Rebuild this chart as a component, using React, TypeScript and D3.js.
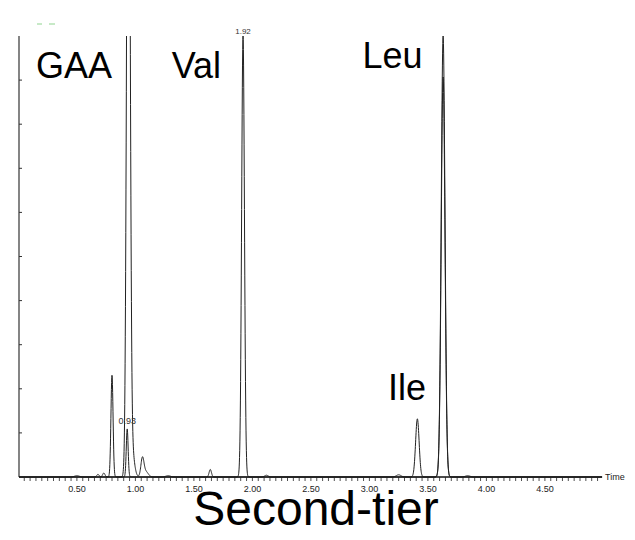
import React from "react";
import * as d3 from "d3";

// Chromatogram peaks, trace A: [retention time (min), height (% of full scale), width sigma (min)]
const peaksA: [number, number, number][] = [
  [0.5, 0.3, 0.02],
  [0.68, 0.6, 0.01],
  [0.73, 0.9, 0.01],
  [0.8, 23.1, 0.009],
  [0.94, 190, 0.014],
  [0.97, 6, 0.02],
  [1.06, 4.2, 0.013],
  [1.09, 1.2, 0.02],
  [1.28, 0.3, 0.02],
  [1.64, 1.7, 0.01],
  [1.92, 100, 0.012],
  [2.12, 0.4, 0.015],
  [3.25, 0.5, 0.02],
  [3.41, 13.2, 0.015],
  [3.63, 100, 0.016],
  [3.84, 0.3, 0.02],
];
// trace B (overlaid channel)
const peaksB: [number, number, number][] = [
  [0.93, 10.9, 0.008],
  [3.63, 90.7, 0.016],
];
const peakLabels: { t: number; v: number; text: string }[] = [
  { t: 0.93, v: 11.5, text: "0.93" },
  { t: 1.92, v: 100, text: "1.92" },
];
const compoundLabels: { text: string; t: number; v: number }[] = [
  { text: "GAA", t: 0.15, v: 90.5 },
  { text: "Val", t: 1.31, v: 90.5 },
  { text: "Leu", t: 2.94, v: 92.7 },
  { text: "Ile", t: 3.16, v: 17.5 },
];
const xTickLabels = [0.5, 1.0, 1.5, 2.0, 2.5, 3.0, 3.5, 4.0, 4.5];
const xMinorTicks = d3.range(1, 100).map((i) => i * 0.05);
const yTicks = [10, 20, 30, 40, 50, 60, 70, 80, 90];
const title = "Second-tier";
const xAxisTitle = "Time";

const W = 635;
const H = 540;
const x = d3.scaleLinear().domain([0, 5]).range([18.4, 603.4]);
const y = d3.scaleLinear().domain([0, 100]).range([477, 36]);

function trace(peaks: [number, number, number][]) {
  const ts = d3.range(0, 4.99, 0.0015);
  return ts.map((t) => {
    let v = 0;
    for (const [c, h, s] of peaks) v += h * Math.exp(-((t - c) ** 2) / (2 * s * s));
    return [t, v] as [number, number];
  });
}

export default function App() {
  const line = d3
    .line<[number, number]>()
    .x((d) => x(d[0]))
    .y((d) => y(d[1]));
  const font = "Liberation Sans, Arial, sans-serif";
  return (
    <svg width={W} height={H} style={{ position: "absolute", left: 0, top: 0 }}>
      <rect width={W} height={H} fill="#fff" />
      <defs>
        <clipPath id="plot">
          <rect x={19} y={36} width={585} height={442} />
        </clipPath>
      </defs>
      {/* green legend dashes */}
      <line x1={37} x2={42} y1={24} y2={24} stroke="#8fd48f" strokeWidth={1} />
      <line x1={49} x2={55} y1={24} y2={24} stroke="#8fd48f" strokeWidth={1} />
      {/* axes */}
      <line x1={19} x2={19} y1={36} y2={477} stroke="#333" strokeWidth={1.2} />
      {yTicks.map((v) => (
        <line key={v} x1={19} x2={22} y1={y(v)} y2={y(v)} stroke="#333" strokeWidth={1} />
      ))}
      <g clipPath="url(#plot)">
        <path d={line(trace(peaksB)) || ""} fill="none" stroke="#222" strokeWidth={1} />
        <path d={line(trace(peaksA)) || ""} fill="none" stroke="#222" strokeWidth={1} />
      </g>
      <line x1={19} x2={602} y1={477} y2={477} stroke="#111" strokeWidth={1.5} />
      {xMinorTicks.map((t, i) => (
        <line key={i} x1={x(t)} x2={x(t)} y1={477} y2={481} stroke="#222" strokeWidth={0.8} />
      ))}
      {xTickLabels.map((t) => (
        <text key={t} x={x(t)} y={492} fontSize={9} fontFamily={font} textAnchor="middle" fill="#222">
          {t.toFixed(2)}
        </text>
      ))}
      <text x={605} y={480} fontSize={9} fontFamily={font} fill="#222">
        {xAxisTitle}
      </text>
      {peakLabels.map((p) => (
        <text key={p.text} x={x(p.t)} y={y(p.v) - 2} fontSize={p.v > 50 ? 8 : 9} fontFamily={font} textAnchor="middle" fill="#333">
          {p.text}
        </text>
      ))}
      {compoundLabels.map((c) => (
        <text key={c.text} x={x(c.t)} y={y(c.v)} fontSize={36} fontFamily={font} fill="#000">
          {c.text}
        </text>
      ))}
      <text x={316} y={525} fontSize={48} fontFamily={font} textAnchor="middle" fill="#000">
        {title}
      </text>
    </svg>
  );
}
